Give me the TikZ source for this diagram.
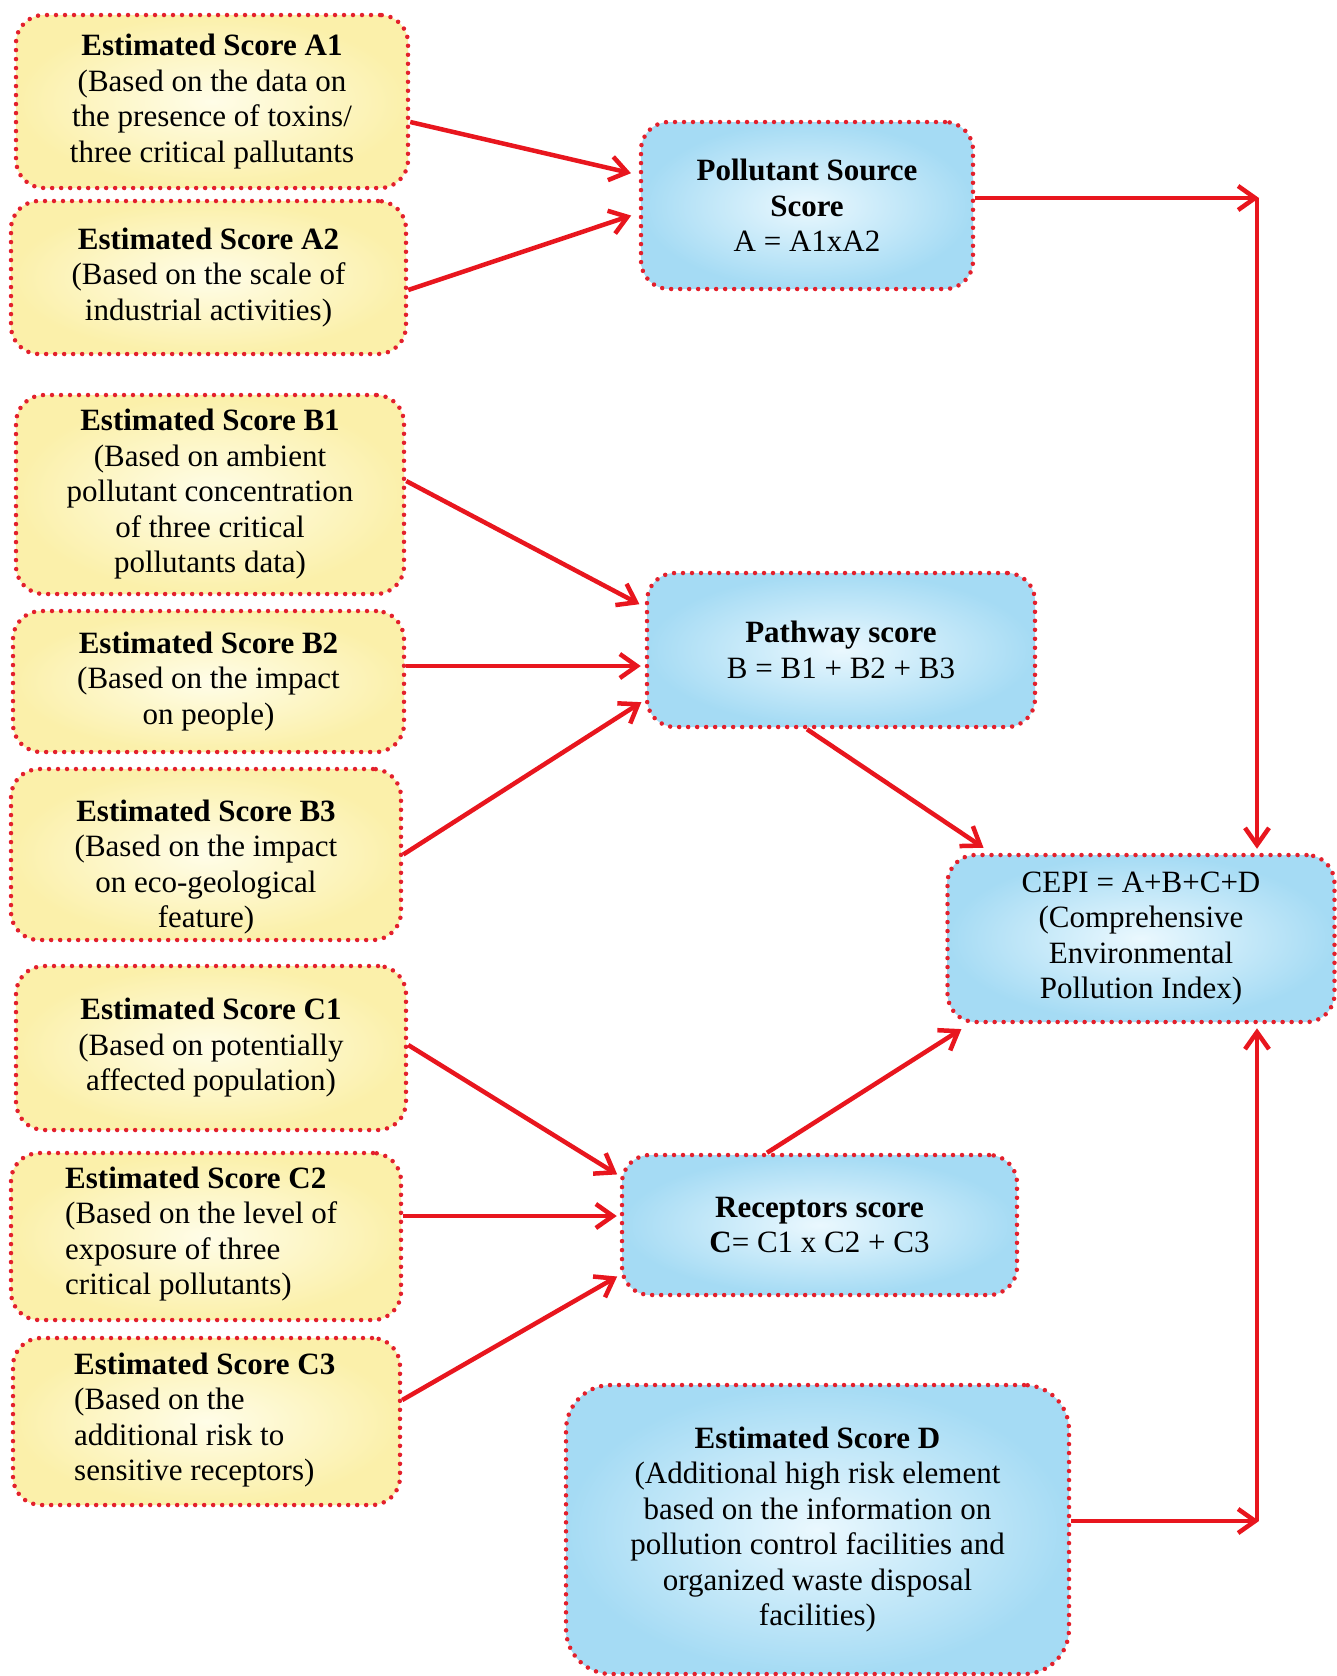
\documentclass[tikz,border=0pt]{standalone}
\usepackage{fontspec}
\setmainfont{Liberation Serif}
\usetikzlibrary{arrows.meta,calc}
\definecolor{dotred}{HTML}{E3202C}
\definecolor{arrred}{HTML}{E8161E}
\definecolor{yin}{HTML}{FFFDE8}
\definecolor{yout}{HTML}{FBF0AA}
\definecolor{bin}{HTML}{EAF8FE}
\definecolor{bout}{HTML}{A5DBF4}
\begin{document}
\begin{tikzpicture}[x=1pt,y=-1pt,
  boxbase/.style={draw=dotred, line width=4.5pt, dash pattern=on 0pt off 9pt, line cap=round,
    rounded corners=28pt, inner sep=0pt, align=center, font=\fontsize{31}{35.5}\selectfont},
  ybox/.style={boxbase, inner color=yin, outer color=yout},
  bbox/.style={boxbase, inner color=bin, outer color=bout},
  txt/.style={inner sep=0pt, align=center, font=\fontsize{31}{35.5}\selectfont},
  arr/.style={draw=arrred, line width=4.5pt, -{Straight Barb[length=17pt,width=24pt]}}
]
\useasboundingbox (0,0) rectangle (1337,1676);

% left yellow boxes
\node[ybox, minimum width=392pt, minimum height=173pt] (a1) at (212,101.5)
  {\textbf{Estimated Score A1}\\(Based on the data on\\the presence of toxins/\\three critical pallutants};
\node[ybox, minimum width=395pt, minimum height=153pt] (a2) at (208.5,277.5)
  {\textbf{Estimated Score A2}\\(Based on the scale of\\industrial activities)};
\node[ybox, minimum width=388pt, minimum height=199pt] (b1) at (210,494.5)
  {\textbf{Estimated Score B1}\\(Based on ambient\\pollutant concentration\\of three critical\\pollutants data)};
\node[ybox, minimum width=391pt, minimum height=141pt] (b2) at (208.5,681.5)
  {\textbf{Estimated Score B2}\\(Based on the impact\\on people)};
\node[ybox, minimum width=390pt, minimum height=171pt] (b3) at (206,854.5) {};
\node[txt] (b3t) at (206,867)
  {\textbf{Estimated Score B3}\\(Based on the impact\\on eco-geological\\feature)};
\node[ybox, minimum width=390pt, minimum height=164pt] (c1) at (211,1048)
  {\textbf{Estimated Score C1}\\(Based on potentially\\affected population)};
\node[ybox, minimum width=390pt, minimum height=167pt] (c2) at (206,1236.5) {};
\node[txt, align=left, anchor=west] (c2t) at (65,1234)
  {\textbf{Estimated Score C2}\\(Based on the level of\\exposure of three\\critical pollutants)};
\node[ybox, minimum width=387pt, minimum height=167pt] (c3) at (206.5,1421.5) {};
\node[txt, align=left, anchor=west] (c3t) at (74,1420)
  {\textbf{Estimated Score C3}\\(Based on the\\additional risk to\\sensitive receptors)};

% blue boxes
\node[bbox, minimum width=332pt, minimum height=167pt] (ps) at (807,205.5)
  {\textbf{Pollutant Source}\\\textbf{Score}\\A = A1xA2};
\node[bbox, minimum width=388pt, minimum height=154pt] (pw) at (841,650)
  {\textbf{Pathway score}\\B = B1 + B2 + B3};
\node[bbox, minimum width=395pt, minimum height=140pt] (rc) at (819.5,1225)
  {\textbf{Receptors score}\\\textbf{C}= C1 x C2 + C3};
\node[bbox, minimum width=387pt, minimum height=167pt] (cepi) at (1141,938.5)
  {CEPI = A+B+C+D\\(Comprehensive\\Environmental\\Pollution Index)};
\node[bbox, rounded corners=45pt, minimum width=503pt, minimum height=289pt] (d) at (817.5,1529.5)
  {\textbf{Estimated Score D}\\(Additional high risk element\\based on the information on\\pollution control facilities and\\organized waste disposal\\facilities)};

\coordinate (ctop) at (1259,198);
\coordinate (cbot) at (1259,1521);

% connectors
\draw[arr, shorten >=8pt] ([yshift=-20.5pt]a1.east) -- ([yshift=30.5pt]ps.west);
\draw[arr, shorten >=8pt] ([yshift=-12.5pt]a2.east) -- ([yshift=-7.5pt]ps.west);
\draw[arr, shorten >=6pt] ([yshift=13.5pt]b1.east) -- ([yshift=43pt]pw.west);
\draw[arr, shorten >=4pt] ([yshift=15.5pt]b2.east) -- ([yshift=-16pt]pw.west);
\draw[arr, shorten >=4pt] (b3.east) -- ([yshift=-50pt]pw.west);
\draw[arr, shorten >=9pt] ([xshift=-34pt]pw.south) -- ([xshift=-150pt]cepi.north);
\draw[arr, shorten >=3pt] ([yshift=3pt]c1.east) -- ([yshift=49pt]rc.west);
\draw[arr, shorten >=3pt] ([yshift=20.5pt]c2.east) -- ([yshift=9pt]rc.west);
\draw[arr, shorten >=3pt] ([yshift=21.5pt]c3.east) -- ([yshift=-50pt]rc.west);
\draw[arr, shorten >=9pt] ([xshift=-52.5pt]rc.north) -- ([xshift=-172pt]cepi.south);
\draw[arr] ([yshift=7.5pt]ps.east) -- (ctop);
\draw[arr, shorten >=4pt] ([xshift=-2pt]ctop) -- ([xshift=-2pt]cepi.north -| ctop);
\draw[arr] ([yshift=8.5pt]d.east) -- (cbot);
\draw[arr, shorten >=4pt] ([xshift=-2pt]cbot) -- ([xshift=-2pt]cepi.south -| ctop);
\end{tikzpicture}
\end{document}
